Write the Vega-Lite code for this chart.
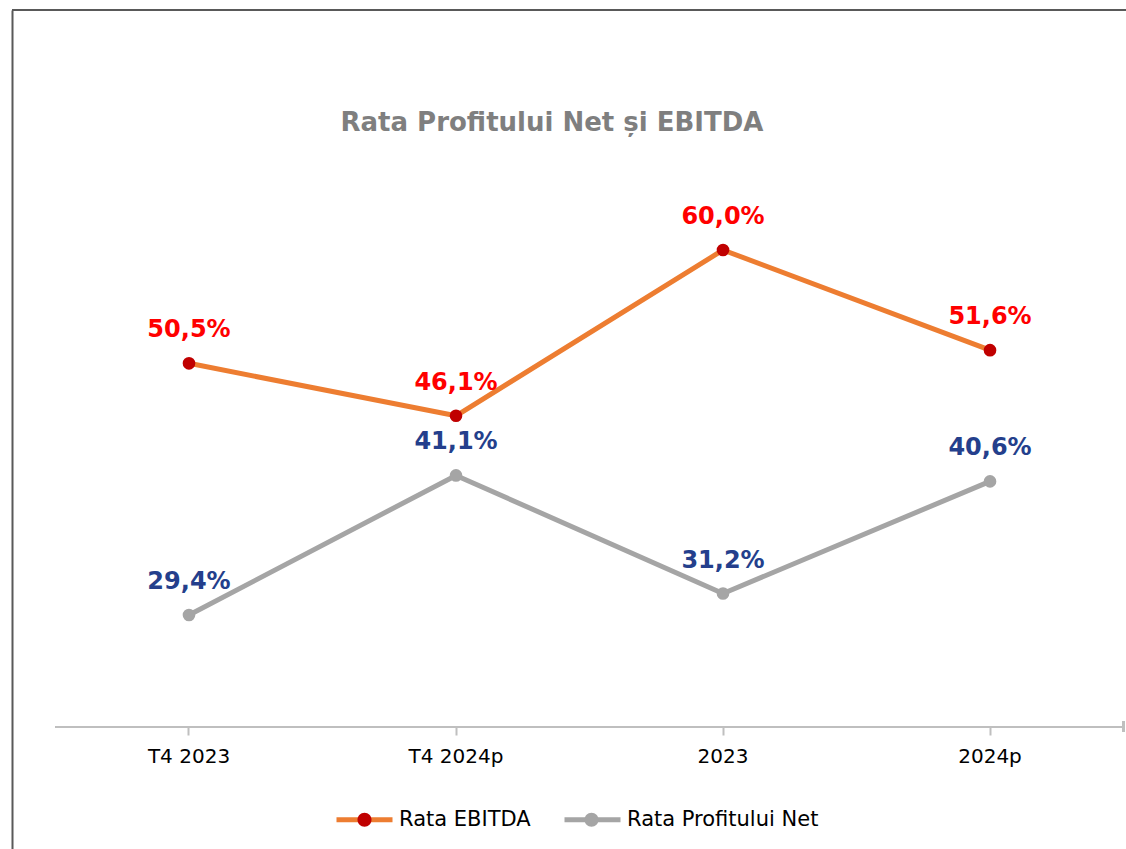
{
  "$schema": "https://vega.github.io/schema/vega-lite/v6.json",
  "autosize": {"type": "none"},
  "padding": {"left": 12, "top": 10, "right": 0, "bottom": 0},
  "width": 1114,
  "height": 839,
  "background": "white",
  "config": {
    "locale": {"number": {"decimal": ",", "thousands": ".", "grouping": [3], "currency": ["", " €"]}},
    "view": {"stroke": null},
    "font": "DejaVu Sans"
  },
  "title": {
    "text": "Rata Profitului Net și EBITDA",
    "frame": "group",
    "anchor": "middle",
    "orient": "top",
    "offset": -148,
    "baseline": "alphabetic",
    "dx": -17,
    "fontSize": 26,
    "fontWeight": "bold",
    "color": "#7F7F7F"
  },
  "data": {
    "values": [
      {"period": "T4 2023", "series": "Rata EBITDA", "value": 0.505},
      {"period": "T4 2024p", "series": "Rata EBITDA", "value": 0.461},
      {"period": "2023", "series": "Rata EBITDA", "value": 0.600},
      {"period": "2024p", "series": "Rata EBITDA", "value": 0.516},
      {"period": "T4 2023", "series": "Rata Profitului Net", "value": 0.294},
      {"period": "T4 2024p", "series": "Rata Profitului Net", "value": 0.411},
      {"period": "2023", "series": "Rata Profitului Net", "value": 0.312},
      {"period": "2024p", "series": "Rata Profitului Net", "value": 0.406}
    ]
  },
  "layer": [
    {
      "mark": {"type": "line", "strokeWidth": 5, "strokeCap": "round", "strokeJoin": "round"},
      "encoding": {
        "x": {
          "field": "period",
          "type": "nominal",
          "sort": ["T4 2023", "T4 2024p", "2023", "2024p"],
          "scale": {"type": "band", "paddingInner": 0, "paddingOuter": 0.0861, "align": 0.946},
          "axis": {
            "orient": "bottom",
            "offset": -123,
            "domain": false,
            "ticks": true,
            "tickColor": "#BFBFBF",
            "tickWidth": 2,
            "tickSize": 9,
            "labelFontSize": 20,
            "labelColor": "#000000",
            "labelPadding": 11,
            "labelAngle": 0,
            "title": null
          }
        },
        "y": {
          "field": "value",
          "type": "quantitative",
          "scale": {"domain": [0.0978, 0.8012], "zero": false, "nice": false},
          "axis": {
            "orient": "left",
            "domain": true,
            "domainColor": "#595959",
            "domainWidth": 2,
            "ticks": false,
            "labels": false,
            "grid": false,
            "title": null
          }
        },
        "color": {
          "field": "series",
          "type": "nominal",
          "scale": {"range": ["#ED7D31", "#A5A5A5"]},
          "legend": {
            "orient": "none",
            "legendX": 322,
            "legendY": 779,
            "direction": "horizontal",
            "title": null,
            "symbolType": "stroke",
            "symbolSize": 3136,
            "symbolStrokeWidth": 5,
            "labelFontSize": 21,
            "labelLimit": 400,
            "labelColor": "#000000",
            "labelOffset": 4,
            "columnPadding": 23,
            "padding": 0
          }
        }
      }
    },
    {
      "mark": {"type": "point", "filled": true, "size": 160, "opacity": 1},
      "encoding": {
        "x": {"field": "period", "type": "nominal", "sort": ["T4 2023", "T4 2024p", "2023", "2024p"]},
        "y": {"field": "value", "type": "quantitative"},
        "fill": {
          "field": "series",
          "type": "nominal",
          "scale": {"domain": ["Rata EBITDA", "Rata Profitului Net"], "range": ["#C00000", "#A5A5A5"]},
          "legend": {
            "orient": "none",
            "legendX": 322,
            "legendY": 779,
            "direction": "horizontal",
            "title": null,
            "symbolType": "M-0.25,0A0.25,0.25 0 1,0 0.25,0A0.25,0.25 0 1,0 -0.25,0Z",
            "symbolSize": 3136,
            "symbolStrokeWidth": 5,
            "symbolStrokeColor": "transparent",
            "symbolOpacity": 1,
            "labelFontSize": 21,
            "labelExpr": "''",
            "labelOffset": 4,
            "columnPadding": 162,
            "padding": 0
          }
        }
      }
    },
    {
      "mark": {"type": "text", "fontSize": 24, "fontWeight": "bold", "baseline": "alphabetic", "dy": -26},
      "encoding": {
        "x": {"field": "period", "type": "nominal", "sort": ["T4 2023", "T4 2024p", "2023", "2024p"]},
        "y": {"field": "value", "type": "quantitative"},
        "text": {"field": "value", "type": "quantitative", "format": ".1%"},
        "color": {
          "condition": {"test": "datum.series === 'Rata EBITDA'", "value": "#FF0000"},
          "value": "#243F8C"
        }
      }
    },
    {
      "mark": {"type": "rule", "color": "#595959", "strokeWidth": 2},
      "encoding": {"y": {"datum": 0.8012, "type": "quantitative"}}
    },
    {
      "mark": {"type": "rule", "color": "#BFBFBF", "strokeWidth": 2},
      "encoding": {
        "y": {"datum": 0.2, "type": "quantitative"},
        "x": {"datum": "T4 2023", "type": "nominal", "bandPosition": 0},
        "x2": {"datum": "2024p", "bandPosition": 1}
      }
    },
    {
      "mark": {"type": "rule", "color": "#BFBFBF", "strokeWidth": 2},
      "encoding": {
        "x": {"datum": "2024p", "type": "nominal", "bandPosition": 1},
        "y": {"datum": 0.2051, "type": "quantitative"},
        "y2": {"datum": 0.1959}
      }
    }
  ]
}
